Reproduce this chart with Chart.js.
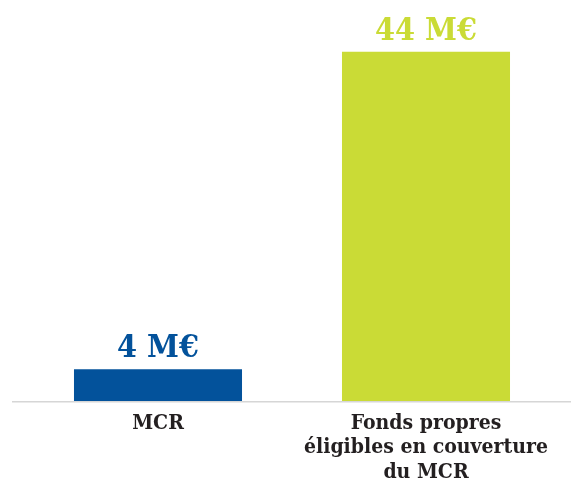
<!DOCTYPE html>
<html>
<head>
<meta charset="utf-8">
<script src="https://cdn.jsdelivr.net/npm/chart.js@4.4.1/dist/chart.umd.min.js"></script>
<style>
  html, body { margin: 0; padding: 0; background: #fff; }
  #wrap { width: 571px; height: 481px; }
</style>
</head>
<body>
<div id="wrap"><canvas id="chart"></canvas></div>
<script>
const categories = [['MCR'], ['Fonds propres', 'éligibles en couverture', 'du MCR']];
const values = [4, 44];
const valueLabels = ['4 M€', '44 M€'];
const barColors = ['#03529b', '#cadb36'];

const fontFamily = "'DejaVu Serif Condensed', 'DejaVu Serif', serif";

// value labels above the bars + long baseline
const barLabels = {
    id: 'barLabels',
    afterDatasetsDraw(chart) {
        const ctx = chart.ctx;
        const meta = chart.getDatasetMeta(0);
        ctx.save();
        ctx.font = 'bold 32px ' + fontFamily;
        ctx.textAlign = 'center';
        ctx.textBaseline = 'alphabetic';
        meta.data.forEach((bar, i) => {
            ctx.fillStyle = barColors[i];
            ctx.fillText(valueLabels[i], bar.x, bar.y - 12);
        });
        // baseline runs past the plot area like in the original
        const y0 = chart.scales.y.getPixelForValue(0);
        ctx.strokeStyle = '#d6d6d6';
        ctx.lineWidth = 1.5;
        ctx.beginPath();
        ctx.moveTo(12, y0 + 0.75);
        ctx.lineTo(chart.width, y0 + 0.75);
        ctx.stroke();
        ctx.restore();
    }
};

new Chart(document.getElementById('chart'), {
    type: 'bar',
    data: {
        labels: categories,
        datasets: [{
            data: values,
            backgroundColor: barColors,
            borderWidth: 0,
            barPercentage: 0.627,
            categoryPercentage: 1
        }]
    },
    options: {
        responsive: true,
        maintainAspectRatio: false,
        animation: false,
        layout: { padding: { left: 24, right: 11, top: 4, bottom: 0 } },
        plugins: {
            legend: { display: false },
            tooltip: { enabled: false }
        },
        scales: {
            x: {
                grid: { display: false, drawTicks: false },
                border: { display: false },
                afterFit(scale) { scale.height = 80; },
                ticks: {
                    color: '#231f20',
                    padding: 10,
                    maxRotation: 0,
                    autoSkip: false,
                    font: { family: fontFamily, size: 21, weight: 'bold', lineHeight: 1.17 }
                }
            },
            y: {
                display: false,
                min: 0,
                max: 50
            }
        }
    },
    plugins: [barLabels]
});
</script>
</body>
</html>
